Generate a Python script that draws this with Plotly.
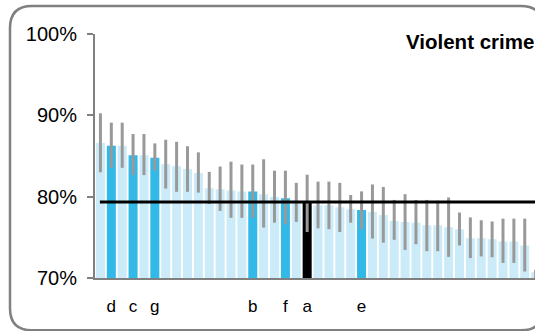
import plotly.graph_objects as go

# ---- data ----
values = [86.6, 86.25, 86.25, 85.1, 85.1, 84.8, 84.0, 83.75, 83.4, 82.9,
          81.05, 80.9, 80.75, 80.65, 80.65, 80.3, 79.95, 79.8, 79.4, 79.3,
          78.95, 78.95, 78.7, 78.45, 78.35, 78.1, 77.75, 77.0, 76.9, 76.8,
          76.5, 76.5, 76.25, 76.0, 74.9, 74.9, 74.75, 74.5, 74.5, 74.0, 70.7]
upper = [90.25, 89.1, 89.1, 87.7, 87.7, 86.55, 87.0, 86.75, 86.2, 85.45,
         83.05, 83.7, 84.3, 83.95, 83.95, 84.6, 83.2, 83.2, 81.7, 82.7,
         81.85, 81.85, 81.7, 80.2, 80.65, 81.5, 81.2, 79.6, 80.3, 79.6,
         79.6, 79.5, 79.9, 78.05, 77.45, 77.1, 76.95, 77.3, 77.3, 77.3, 71.0]
lower = [83.0, 83.55, 83.55, 82.65, 82.65, 83.2, 81.0, 80.6, 80.6, 80.5,
         79.1, 78.25, 77.4, 77.4, 77.4, 76.2, 76.8, 76.6, 76.9, 75.65,
         76.1, 76.0, 75.65, 76.8, 76.0, 74.85, 74.35, 74.7, 73.45, 74.15,
         73.3, 73.3, 72.6, 74.0, 72.45, 72.65, 72.55, 71.85, 71.85, 70.8, 68.0]
highlight = {1: "d", 3: "c", 5: "g", 14: "b", 17: "f", 19: "a", 24: "e"}
own_index = 19
reference_value = 79.35
title_text = "Violent crime"
y_ticks = [70, 80, 90, 100]
y_ticktext = ["70%", "80%", "90%", "100%"]

LIGHT = "#CCEBF8"
BLUE = "#33B9E8"
n = len(values)
xs = list(range(n))
colors = []
for i in xs:
    if i == own_index:
        colors.append("#000000")
    elif i in highlight:
        colors.append(BLUE)
    else:
        colors.append(LIGHT)

err_plus = [u - v for u, v in zip(upper, values)]
err_minus = [v - l for v, l in zip(values, lower)]

W, H = 535, 331
L, R, T, B = 95, 0, 34, 53.3
pw, ph = W - L - R, H - T - B
step = 10.88

fig = go.Figure()
fig.add_trace(go.Bar(
    x=xs, y=values, base=0,
    marker=dict(color=colors, line=dict(width=0)),
    error_y=dict(type="data", symmetric=False, array=err_plus, arrayminus=err_minus,
                 color="#999999", thickness=3, width=0),
    showlegend=False, hoverinfo="skip",
))

def px2paper(px, py):
    return (px - L) / pw, (H - B - py) / ph

# rounded frame
x0, y0, x1, y1, r = 10, 6, 543, 330, 22
def P(x, y):
    a, b = px2paper(x, y)
    return f"{a:.5f},{b:.5f}"
path = (f"M {P(x0 + r, y0)} L {P(x1 - r, y0)} Q {P(x1, y0)} {P(x1, y0 + r)} "
        f"L {P(x1, y1 - r)} Q {P(x1, y1)} {P(x1 - r, y1)} "
        f"L {P(x0 + r, y1)} Q {P(x0, y1)} {P(x0, y1 - r)} "
        f"L {P(x0, y0 + r)} Q {P(x0, y0)} {P(x0 + r, y0)} Z")
fig.add_shape(type="path", path=path, xref="paper", yref="paper",
              line=dict(color="#808080", width=2.5), layer="below")

# reference line
fig.add_shape(type="line", xref="x", yref="y", x0=-0.05, x1=n + 2,
              y0=reference_value, y1=reference_value,
              line=dict(color="#000000", width=3), layer="above")

fig.add_annotation(text=f"<b>{title_text}</b>", xref="paper", yref="paper",
                   x=px2paper(536, 0)[0], y=px2paper(0, 41)[1],
                   xanchor="right", yanchor="middle", showarrow=False,
                   font=dict(family="Liberation Sans, Arial", size=20.5, color="#000000"))

fig.update_layout(
    width=W, height=H,
    margin=dict(l=L, r=R, t=T, b=B, pad=0),
    paper_bgcolor="white", plot_bgcolor="white",
    bargap=0.17,
    font=dict(family="Liberation Sans, Arial", color="#000000"),
    xaxis=dict(range=[-0.5, -0.5 + pw / step], tickmode="array",
               tickvals=list(highlight.keys()), ticktext=list(highlight.values()),
               ticks="outside", ticklen=12, tickcolor="rgba(0,0,0,0)",
               tickfont=dict(size=17), showline=True, linecolor="#808080", linewidth=2,
               showgrid=False, zeroline=False, fixedrange=True),
    yaxis=dict(range=[70, 100], tickmode="array", tickvals=y_ticks, ticktext=y_ticktext,
               ticks="outside", ticklen=6, tickcolor="#808080", tickwidth=2,
               tickfont=dict(size=20), ticklabelstandoff=6,
               showline=True, linecolor="#808080", linewidth=2,
               showgrid=False, zeroline=False, fixedrange=True),
)

fig.write_html("out.html",
               post_script="document.body.style.margin='0';document.body.style.padding='0';document.body.style.overflow='hidden';",
               config={"displayModeBar": False})
